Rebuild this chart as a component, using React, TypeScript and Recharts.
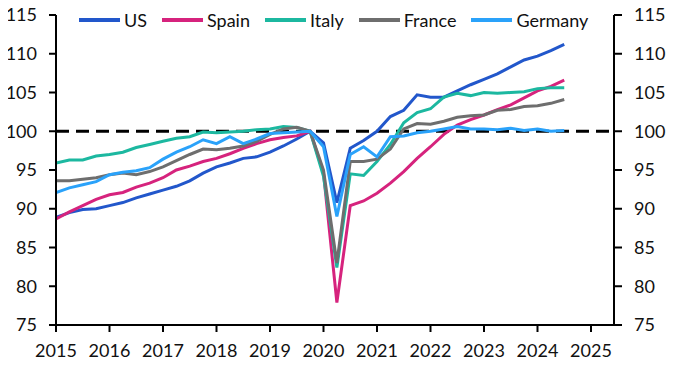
import { LineChart, Line, XAxis, YAxis, ReferenceLine, Legend } from 'recharts';

// quarterly, 2015Q1 .. 2024Q3, index 2019Q4 = 100
const quarters = [
  '2015Q1', '2015Q2', '2015Q3', '2015Q4',
  '2016Q1', '2016Q2', '2016Q3', '2016Q4',
  '2017Q1', '2017Q2', '2017Q3', '2017Q4',
  '2018Q1', '2018Q2', '2018Q3', '2018Q4',
  '2019Q1', '2019Q2', '2019Q3', '2019Q4',
  '2020Q1', '2020Q2', '2020Q3', '2020Q4',
  '2021Q1', '2021Q2', '2021Q3', '2021Q4',
  '2022Q1', '2022Q2', '2022Q3', '2022Q4',
  '2023Q1', '2023Q2', '2023Q3', '2023Q4',
  '2024Q1', '2024Q2', '2024Q3',
];

const us = [
  88.9, 89.5, 89.9, 90.0, 90.4, 90.8, 91.4, 91.9, 92.4, 92.9, 93.6, 94.6,
  95.4, 95.9, 96.5, 96.7, 97.3, 98.1, 99.0, 100, 98.5, 90.8, 97.8, 98.8,
  100.0, 101.9, 102.7, 104.7, 104.4, 104.4, 105.2, 106.0, 106.7, 107.4,
  108.3, 109.2, 109.7, 110.4, 111.2,
];
const spain = [
  88.7, 89.6, 90.4, 91.2, 91.8, 92.1, 92.8, 93.3, 94.0, 95.0, 95.5, 96.1,
  96.5, 97.1, 97.8, 98.4, 98.9, 99.2, 99.4, 100, 94.6, 77.9, 90.4, 91.0,
  92.0, 93.3, 94.8, 96.5, 98.0, 99.6, 100.8, 101.5, 102.1, 102.8, 103.4,
  104.3, 105.2, 105.8, 106.6,
];
const italy = [
  95.9, 96.3, 96.3, 96.8, 97.0, 97.3, 97.9, 98.3, 98.7, 99.1, 99.3, 99.9,
  99.8, 99.9, 100.0, 100.2, 100.3, 100.6, 100.5, 100, 94.2, 82.4, 94.5, 94.3,
  96.1, 98.3, 101.1, 102.4, 102.9, 104.4, 104.9, 104.6, 105.0, 104.9, 105.0,
  105.1, 105.5, 105.6, 105.6,
];
const france = [
  93.6, 93.6, 93.8, 94.0, 94.4, 94.6, 94.4, 94.8, 95.4, 96.2, 97.0, 97.7,
  97.6, 97.8, 98.1, 98.7, 99.6, 100.3, 100.5, 100, 95.0, 83.0, 96.1, 96.1,
  96.4, 97.7, 100.3, 101.0, 100.9, 101.3, 101.8, 102.0, 102.1, 102.7, 102.8,
  103.2, 103.3, 103.6, 104.1,
];
const germany = [
  92.1, 92.7, 93.1, 93.5, 94.4, 94.7, 94.9, 95.3, 96.4, 97.3, 98.0, 98.9,
  98.4, 99.3, 98.4, 99.0, 99.7, 99.8, 99.9, 100, 98.0, 89.0, 97.0, 98.0,
  96.7, 99.3, 99.4, 99.8, 100.0, 100.3, 100.6, 100.3, 100.3, 100.2, 100.4,
  100.1, 100.3, 100.0, 100.1,
];

const xTicks = [2015, 2016, 2017, 2018, 2019, 2020, 2021, 2022, 2023, 2024, 2025];
const yTicks = [75, 80, 85, 90, 95, 100, 105, 110, 115];

// both y axes share the same scale; germany is tied to the right one so it gets drawn
const series = [
  { key: 'us', name: 'US', color: '#2257CB', axis: 'left' },
  { key: 'spain', name: 'Spain', color: '#D6237D', axis: 'left' },
  { key: 'italy', name: 'Italy', color: '#1CB8A0', axis: 'left' },
  { key: 'france', name: 'France', color: '#6E6E6E', axis: 'left' },
  { key: 'germany', name: 'Germany', color: '#2AA2FA', axis: 'right' },
];

const data = quarters.map((q, i) => ({
  t: Number(q.slice(0, 4)) + (Number(q.slice(5)) - 1) / 4,
  us: us[i],
  spain: spain[i],
  italy: italy[i],
  france: france[i],
  germany: germany[i],
}));

const FONT = 'Lato, "Liberation Sans", sans-serif';
const tickStyle = { fontSize: 18, fill: '#111', fontFamily: FONT };
const axisStroke = { stroke: '#000', strokeWidth: 2 };

function LegendContent() {
  return (
    <div style={{ display: 'flex', alignItems: 'center', fontFamily: FONT }}>
      {series.map((s) => (
        <div
          key={s.key}
          style={{ display: 'flex', alignItems: 'center', marginRight: 15 }}
        >
          <svg width={41} height={4} style={{ display: 'block' }}>
            <line x1={0} y1={2} x2={41} y2={2} stroke={s.color} strokeWidth={4} />
          </svg>
          <span style={{ marginLeft: 4, fontSize: 18, lineHeight: '22px', color: '#111' }}>
            {s.name}
          </span>
        </div>
      ))}
    </div>
  );
}

export default function App() {
  // pulled over the body margin so the outer tick labels are not clipped
  return (
    <div style={{ width: 674, height: 364, margin: '-8px 0 0 -8px', fontFamily: FONT }}>
      <LineChart
        width={674}
        height={364}
        data={data}
        margin={{ top: 15, right: 8, bottom: 0, left: 8 }}
      >
        <XAxis
          dataKey='t'
          type='number'
          domain={[2015, 2025.43]}
          ticks={xTicks}
          interval={0}
          allowDataOverflow
          height={39}
          tick={tickStyle}
          tickSize={7}
          tickMargin={12}
          axisLine={axisStroke}
          tickLine={axisStroke}
        />
        <YAxis
          yAxisId='left'
          domain={[75, 115]}
          ticks={yTicks}
          interval={0}
          width={48}
          tick={tickStyle}
          tickSize={7}
          tickMargin={12}
          axisLine={axisStroke}
          tickLine={axisStroke}
        />
        <YAxis
          yAxisId='right'
          orientation='right'
          domain={[75, 115]}
          ticks={yTicks}
          interval={0}
          width={52}
          tick={tickStyle}
          tickSize={8}
          tickMargin={12}
          axisLine={axisStroke}
          tickLine={axisStroke}
        />
        <ReferenceLine
          yAxisId='left'
          y={100}
          stroke='#000'
          strokeWidth={3}
          strokeDasharray='13 7'
        />
        <Legend
          layout='horizontal'
          verticalAlign='middle'
          align='center'
          content={LegendContent}
          wrapperStyle={{ top: 9, left: 79, width: 560, height: 22 }}
        />
        {series.map((s) => (
          <Line
            key={s.key}
            yAxisId={s.axis}
            type='linear'
            dataKey={s.key}
            name={s.name}
            stroke={s.color}
            strokeWidth={3}
            dot={false}
            activeDot={false}
            isAnimationActive={false}
          />
        ))}
      </LineChart>
    </div>
  );
}
